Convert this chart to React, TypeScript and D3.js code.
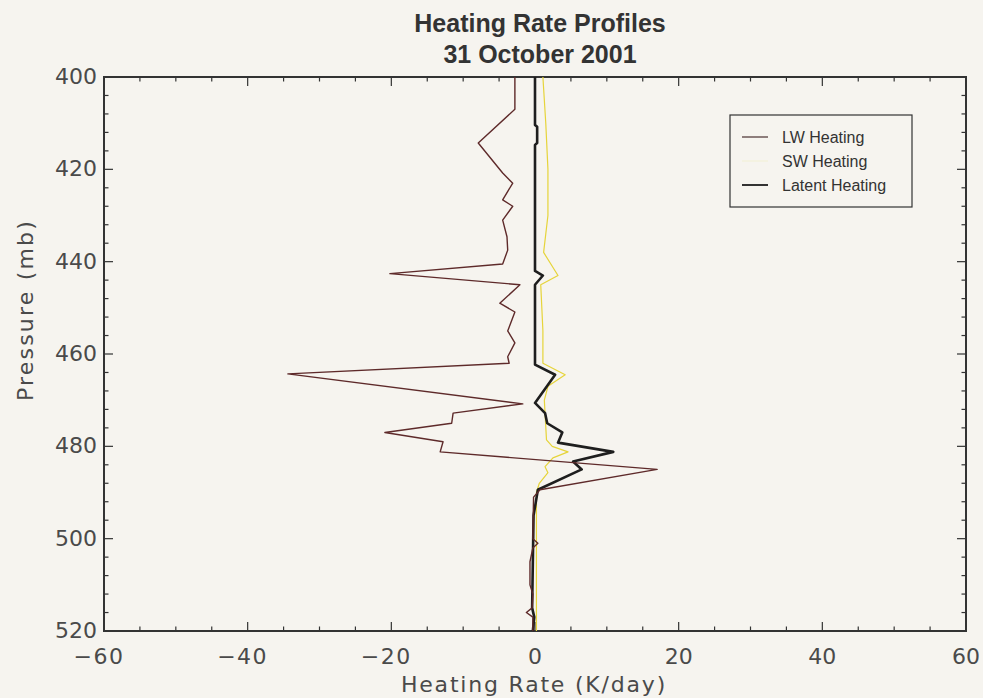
import React, { useEffect, useRef } from 'react';
import * as d3 from 'd3';

// LW heating profile (pressure in mb, rate in K/day)
const lwPressure = [400, 407, 414.3, 420.8, 423, 426.6, 428, 431, 434.6, 437.5, 440.5, 442.6, 445, 449, 450.9, 455, 457.6, 460.6, 462, 464.3, 470.8, 472.8, 475, 477, 479, 481.2, 485, 489.4, 491, 500, 501, 502, 505, 510, 512, 515, 516, 517, 520];
const lwRate = [-2.8, -2.8, -7.9, -4.5, -3.1, -4.5, -3.1, -4.5, -3.9, -3.8, -4.5, -20.2, -2.1, -4.9, -2.8, -3.8, -2.8, -3.8, -3.6, -34.4, -1.7, -11.4, -11.6, -20.9, -12.8, -13.2, 17, 0.7, -0.2, -0.3, 0.4, -0.3, -0.7, -0.7, -0.3, -0.4, -1.2, -0.3, -0.3];

// SW heating profile
const swPressure = [400, 410, 420, 430, 438, 443, 445, 455, 462, 464.5, 467, 470, 478.6, 480, 481.2, 482.5, 484.4, 485.7, 488, 490, 505, 520];
const swRate = [1.1, 1.5, 1.8, 1.8, 1.2, 3.2, 0.8, 1.1, 1.1, 4.2, 1.8, 1.3, 1.6, 2.4, 4.6, 2.5, 1.4, 1.8, 0.6, 0.2, 0.2, 0.2];

// Latent heating profile
const latPressure = [400, 410.4, 410.8, 414.3, 414.7, 442, 443, 445, 462.3, 464.5, 470.6, 472.8, 475, 477, 479.2, 481.2, 483.3, 485, 489.4, 495, 505, 515, 517, 520];
const latRate = [0, 0, 0.3, 0.3, 0, 0, 1.1, 0, 0, 2.8, 0, 1.4, 1.7, 3.8, 3.2, 10.9, 5.3, 6.5, 0.4, -0.2, -0.3, -0.4, -0.1, -0.3];

const xTicks = [-60, -40, -20, 0, 20, 40, 60];
const yTicks = [400, 420, 440, 460, 480, 500, 520];

const legendLabels = ['LW Heating', 'SW Heating', 'Latent Heating'];

export default function App() {
  const ref = useRef<SVGSVGElement>(null);

  useEffect(() => {
    const svg = d3.select(ref.current);
    svg.selectAll('*').remove();

    const left = 104, right = 966, top = 77, bottom = 631;
    const ink = '#333';
    const tickFont = 'DejaVu Sans';
    const tickInk = '#4a4a4a';

    svg.append('rect').attr('width', 983).attr('height', 698).attr('fill', '#f6f4ef');

    const x = d3.scaleLinear().domain([-60, 60]).range([left, right]);
    const y = d3.scaleLinear().domain([400, 520]).range([top, bottom]);

    // title, two lines
    ['Heating Rate Profiles', '31 October 2001'].forEach((t, i) => {
      svg.append('text')
        .attr('x', 540).attr('y', 32 + i * 31)
        .attr('text-anchor', 'middle')
        .attr('font-family', 'Liberation Sans, Arial, sans-serif')
        .attr('font-weight', 'bold').attr('font-size', 25)
        .attr('fill', ink)
        .text(t);
    });

    // ticks on all four sides, pointing inward
    const g = svg.append('g').attr('stroke', ink).attr('stroke-width', 1.2);
    d3.range(-60, 60.1, 5).forEach(v => {
      const len = v % 20 === 0 ? 9 : 4.5;
      g.append('line').attr('x1', x(v)).attr('x2', x(v)).attr('y1', bottom).attr('y2', bottom - len);
      g.append('line').attr('x1', x(v)).attr('x2', x(v)).attr('y1', top).attr('y2', top + len);
    });
    d3.range(400, 520.1, 4).forEach(v => {
      const len = v % 20 === 0 ? 9 : 4.5;
      g.append('line').attr('y1', y(v)).attr('y2', y(v)).attr('x1', left).attr('x2', left + len);
      g.append('line').attr('y1', y(v)).attr('y2', y(v)).attr('x1', right).attr('x2', right - len);
    });

    svg.append('rect')
      .attr('x', left).attr('y', top)
      .attr('width', right - left).attr('height', bottom - top)
      .attr('fill', 'none').attr('stroke', ink).attr('stroke-width', 2);

    // tick labels
    xTicks.forEach(v => {
      svg.append('text')
        .attr('x', x(v) + (v < 0 ? -5 : 0)).attr('y', 664)
        .attr('text-anchor', 'middle')
        .attr('font-family', tickFont).attr('font-size', 22)
        .attr('fill', tickInk)
        .attr('letter-spacing', v < 0 ? 1.5 : 0)
        .text(v < 0 ? '\u2212' + Math.abs(v) : String(v));
    });
    yTicks.forEach(v => {
      svg.append('text')
        .attr('x', 97).attr('y', y(v) + 7)
        .attr('text-anchor', 'end')
        .attr('font-family', tickFont).attr('font-size', 22)
        .attr('fill', tickInk)
        .text(String(v));
    });

    // axis titles
    svg.append('text')
      .attr('x', 534).attr('y', 692)
      .attr('text-anchor', 'middle')
      .attr('font-family', tickFont).attr('font-size', 22)
      .attr('letter-spacing', 1.8)
      .attr('fill', tickInk)
      .text('Heating Rate (K/day)');
    svg.append('text')
      .attr('transform', 'translate(33,310) rotate(-90)')
      .attr('text-anchor', 'middle')
      .attr('font-family', tickFont).attr('font-size', 22)
      .attr('letter-spacing', 2.2)
      .attr('fill', tickInk)
      .text('Pressure (mb)');

    // profiles
    const line = d3.line<[number, number]>().x(d => x(d[1])).y(d => y(d[0]));
    const series = [
      { p: swPressure, v: swRate, color: '#e6d43a', w: 1.2 },
      { p: latPressure, v: latRate, color: '#1e1e1e', w: 2.6 },
      { p: lwPressure, v: lwRate, color: '#5e2a2a', w: 1.4 },
    ];
    series.forEach(s => {
      svg.append('path')
        .datum(s.p.map((p, i) => [p, s.v[i]] as [number, number]))
        .attr('d', line)
        .attr('fill', 'none')
        .attr('stroke', s.color)
        .attr('stroke-width', s.w)
        .attr('stroke-linejoin', 'round');
    });

    // legend
    svg.append('rect')
      .attr('x', 730).attr('y', 115).attr('width', 182).attr('height', 92)
      .attr('fill', '#f6f4ef').attr('stroke', ink).attr('stroke-width', 1.2);
    const legColors = ['#4a3030', '#f4f0d8', '#1e1e1e'];
    const legWidths = [1.2, 1.2, 1.8];
    legendLabels.forEach((lab, i) => {
      const ly = 137 + i * 24;
      svg.append('line')
        .attr('x1', 742).attr('x2', 768).attr('y1', ly).attr('y2', ly)
        .attr('stroke', legColors[i]).attr('stroke-width', legWidths[i]);
      svg.append('text')
        .attr('x', 782).attr('y', ly + 6)
        .attr('font-family', 'Liberation Sans, Arial, sans-serif')
        .attr('font-size', 16)
        .attr('fill', ink)
        .text(lab);
    });
  }, []);

  return (
    <svg
      ref={ref}
      width={983}
      height={698}
      style={{ position: 'absolute', left: 0, top: 0, display: 'block' }}
    />
  );
}
